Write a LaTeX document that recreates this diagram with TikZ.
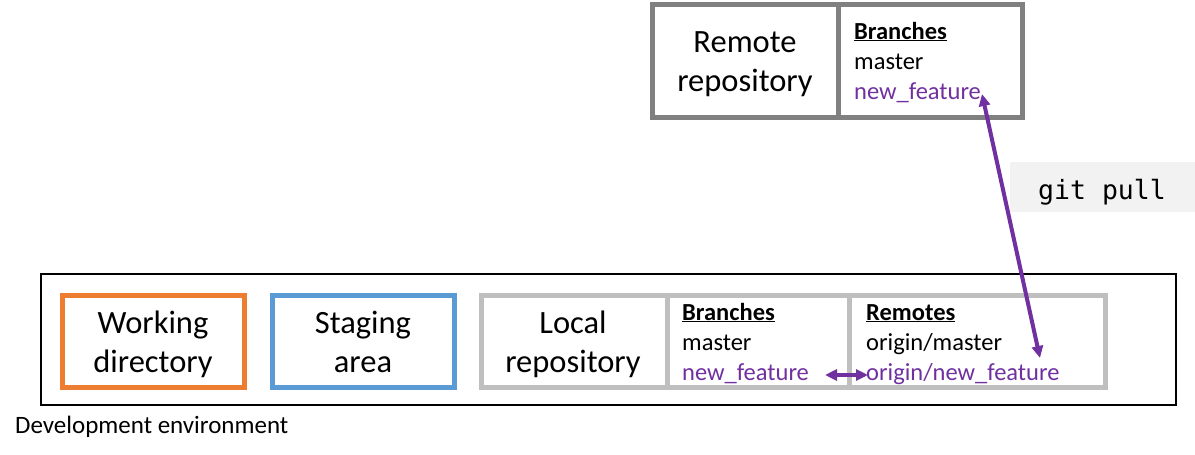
\documentclass[tikz,border=0pt]{standalone}
\usepackage{fontspec}
\setmainfont{Carlito}
\newfontfamily\codefont{DejaVu Sans Mono}
\usetikzlibrary{arrows.meta}
\definecolor{remgray}{RGB}{128,128,128}
\definecolor{locgray}{RGB}{191,191,191}
\definecolor{wdorange}{RGB}{237,125,49}
\definecolor{stblue}{RGB}{91,155,213}
\definecolor{gitpurple}{RGB}{112,48,160}
\definecolor{codebg}{RGB}{242,242,242}
\begin{document}
\begin{tikzpicture}[x=1pt,y=-1pt,
  bigtxt/.style={font=\fontsize{32.5}{38}\selectfont, anchor=base, inner sep=0pt},
  smalltxt/.style={font=\fontsize{24.5}{29}\selectfont, anchor=base west, inner sep=0pt},
  purpletxt/.style={smalltxt, text=gitpurple},
  frame/.style={line width=5pt},
  arr/.style={gitpurple, line width=4pt, {Triangle[length=12pt,width=11pt]}-{Triangle[length=12pt,width=11pt]}}
]
\useasboundingbox (0,0) rectangle (1195,455);
% remote repository
\draw[frame, remgray] (652,4) rectangle (1022,117);
\draw[frame, remgray] (838,4) -- (838,117);
\node[bigtxt] (remA) at (745,52) {Remote};
\node[bigtxt] (remB) at (745,91) {repository};
\node[smalltxt] (rbh) at (854,39) {\textbf{\underline{Branches}}};
\node[smalltxt] (rbm) at (854,69) {master};
\node[purpletxt] (rbn) at (854,99) {new\_feature};
% git pull
\fill[codebg] (1010,162) rectangle (1195,212);
\node[font=\fontsize{26.5}{30}\selectfont\codefont, anchor=base west, inner sep=0pt] (gp) at (1038,199) {git pull};
% dev environment
\draw[line width=2pt] (41,274) rectangle (1176,405);
\node[font=\fontsize{25}{29}\selectfont, anchor=base west, inner sep=0pt] (dev) at (15,433) {Development environment};
% working directory
\draw[frame, wdorange] (62,295) rectangle (244,387);
\node[bigtxt] (wdA) at (153,333) {Working};
\node[bigtxt] (wdB) at (153,372) {directory};
% staging
\draw[frame, stblue] (272,295) rectangle (454,387);
\node[bigtxt] (stA) at (363,333) {Staging};
\node[bigtxt] (stB) at (363,372) {area};
% local repository
\draw[frame, locgray] (481,295) rectangle (1105,387);
\draw[frame, locgray] (667,295) -- (667,387);
\draw[frame, locgray] (849,295) -- (849,387);
\node[bigtxt] (lrA) at (573,333) {Local};
\node[bigtxt] (lrB) at (573,372) {repository};
\node[smalltxt] (lbh) at (682,320) {\textbf{\underline{Branches}}};
\node[smalltxt] (lbm) at (682,350) {master};
\node[purpletxt] (lbn) at (682,380) {new\_feature};
\node[smalltxt] (lrh) at (866,320) {\textbf{\underline{Remotes}}};
\node[smalltxt] (lrm) at (866,350) {origin/master};
\node[purpletxt] (lrn) at (866,380) {origin/new\_feature};
% arrows
\coordinate (ta) at (982,94);
\coordinate (tb) at (1040,358);
\draw[arr] (ta) -- (tb);
\coordinate (sa) at (825,375);
\coordinate (sb) at (868,375);
\draw[arr] (sa) -- (sb);
\end{tikzpicture}
\end{document}
